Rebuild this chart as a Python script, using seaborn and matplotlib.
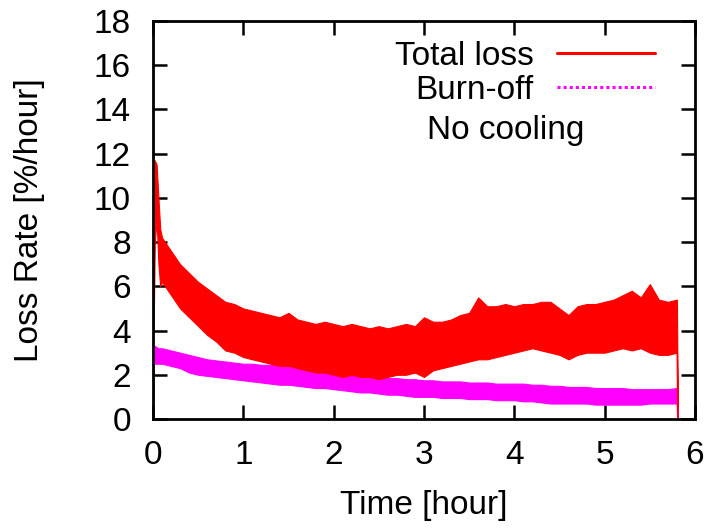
import numpy as np
import pandas as pd
import matplotlib
matplotlib.use("Agg")
import matplotlib.pyplot as plt
from matplotlib.lines import Line2D
import seaborn as sns

# ---- data (envelope of the noisy traces) ----
time_h = [0.0, 0.01, 0.02, 0.04, 0.06, 0.08,
          0.1, 0.2, 0.3, 0.4, 0.5, 0.6, 0.7, 0.8, 0.9, 1.0,
          1.1, 1.2, 1.3, 1.4, 1.5, 1.6, 1.7, 1.8, 1.9, 2.0,
          2.1, 2.2, 2.3, 2.4, 2.5, 2.6, 2.7, 2.8, 2.9, 3.0,
          3.1, 3.2, 3.3, 3.4, 3.5, 3.6, 3.7, 3.8, 3.9, 4.0,
          4.1, 4.2, 4.3, 4.4, 4.5, 4.6, 4.7, 4.8, 4.9, 5.0,
          5.1, 5.2, 5.3, 5.4, 5.5, 5.6, 5.7, 5.8, 5.81]

total_hi = [3.6, 10.5, 11.7, 11.5, 10.0, 8.6,
            8.2, 7.6, 7.0, 6.6, 6.2, 5.9, 5.6, 5.3, 5.2, 5.0,
            4.9, 4.8, 4.7, 4.6, 4.8, 4.5, 4.4, 4.3, 4.4, 4.3,
            4.2, 4.3, 4.2, 4.1, 4.2, 4.1, 4.2, 4.3, 4.2, 4.6,
            4.4, 4.4, 4.5, 4.7, 4.8, 5.5, 5.1, 5.1, 5.2, 5.1,
            5.2, 5.2, 5.3, 5.3, 5.0, 4.7, 5.1, 5.2, 5.2, 5.3,
            5.4, 5.6, 5.8, 5.5, 6.1, 5.4, 5.3, 5.4, 0.0]

total_lo = [3.6, 5.0, 8.0, 9.0, 7.0, 6.0,
            6.2, 5.6, 5.0, 4.6, 4.2, 3.8, 3.5, 3.1, 3.0, 2.8,
            2.7, 2.6, 2.5, 2.4, 2.4, 2.3, 2.2, 2.1, 2.1, 2.0,
            1.9, 2.0, 1.9, 1.9, 1.8, 1.9, 2.0, 2.0, 2.1, 1.9,
            2.2, 2.3, 2.4, 2.5, 2.6, 2.7, 2.7, 2.8, 2.9, 3.0,
            3.1, 3.2, 3.1, 3.0, 2.9, 2.7, 2.9, 3.0, 3.0, 3.0,
            3.1, 3.2, 3.1, 3.2, 3.0, 2.9, 2.9, 3.0, 0.0]

burn_hi = [0.0, 3.3, 3.3, 3.25, 3.2, 3.2,
           3.2, 3.1, 3.0, 2.9, 2.8, 2.7, 2.65, 2.6, 2.55, 2.5,
           2.5, 2.45, 2.45, 2.4, 2.35, 2.3, 2.25, 2.2, 2.15, 2.1,
           2.05, 2.0, 2.0, 1.95, 1.9, 1.85, 1.85, 1.8, 1.8, 1.75,
           1.75, 1.7, 1.7, 1.7, 1.65, 1.65, 1.65, 1.6, 1.6, 1.6,
           1.6, 1.55, 1.55, 1.5, 1.5, 1.45, 1.45, 1.45, 1.4, 1.4,
           1.4, 1.4, 1.35, 1.35, 1.35, 1.35, 1.35, 1.4, 0.0]

burn_lo = [0.0, 2.5, 2.5, 2.5, 2.5, 2.5,
           2.5, 2.4, 2.3, 2.1, 2.0, 1.95, 1.9, 1.85, 1.8, 1.75,
           1.7, 1.65, 1.6, 1.55, 1.55, 1.5, 1.45, 1.4, 1.4, 1.35,
           1.3, 1.25, 1.2, 1.2, 1.15, 1.1, 1.1, 1.05, 1.0, 1.0,
           1.0, 0.95, 0.95, 0.95, 0.9, 0.9, 0.9, 0.85, 0.85, 0.85,
           0.8, 0.8, 0.75, 0.7, 0.7, 0.7, 0.7, 0.7, 0.65, 0.65,
           0.65, 0.65, 0.65, 0.65, 0.7, 0.7, 0.7, 0.7, 0.0]

x_ticks = [0, 1, 2, 3, 4, 5, 6]
y_ticks = [0, 2, 4, 6, 8, 10, 12, 14, 16, 18]

series_labels = ["Total loss", "Burn-off"]
annotation = "No cooling"

# ---- build long-form table: two values per time -> band = min..max ----
df_total = pd.DataFrame({"t": time_h + time_h, "v": total_hi + total_lo})
df_burn = pd.DataFrame({"t": time_h + time_h, "v": burn_hi + burn_lo})

sns.set_style("ticks")
plt.rcParams["font.family"] = ["Liberation Sans", "DejaVu Sans"]
plt.rcParams["text.color"] = "black"
plt.rcParams["axes.labelcolor"] = "black"
plt.rcParams["xtick.color"] = "black"
plt.rcParams["ytick.color"] = "black"

FS = 24
fig = plt.figure(figsize=(7.10, 5.29), dpi=100)
ax = fig.add_axes([153 / 710, 1 - 419 / 529, (695 - 153) / 710, (419 - 21) / 529])

RED = "#ff0000"
MAG = "#ff00ff"

sns.lineplot(data=df_burn, x="t", y="v", ax=ax, color=MAG, linewidth=1.0,
             estimator="mean", errorbar=("pi", 100),
             err_kws={"alpha": 1.0, "linewidth": 0.8, "edgecolor": MAG})
sns.lineplot(data=df_total, x="t", y="v", ax=ax, color=RED, linewidth=1.0,
             estimator="mean", errorbar=("pi", 100),
             err_kws={"alpha": 1.0, "linewidth": 0.8, "edgecolor": RED})

ax.set_xlim(x_ticks[0], x_ticks[-1])
ax.set_ylim(y_ticks[0], y_ticks[-1])
ax.set_xticks(x_ticks)
ax.set_yticks(y_ticks)
ax.set_xticklabels([str(v) for v in x_ticks])
ax.set_yticklabels([str(v) for v in y_ticks])

for s in ax.spines.values():
    s.set_visible(True)
    s.set_linewidth(2.0)
    s.set_color("black")

ax.tick_params(axis="both", which="major", direction="in", length=10, width=1.8,
               top=True, right=True, labelsize=FS, colors="black")
ax.tick_params(axis="y", pad=16)
ax.tick_params(axis="x", pad=15)

ax.set_xlabel("Time [hour]", fontsize=FS, labelpad=14, color="black")
ax.set_ylabel("Loss Rate [%/hour]", fontsize=FS, labelpad=35, color="black")

handles = [Line2D([], [], color=RED, linewidth=2.2, linestyle="-"),
           Line2D([], [], color=MAG, linewidth=2.2, linestyle=(0, (1, 1)))]
leg = fig.legend(handles, series_labels, loc="upper right",
                 bbox_to_anchor=(655 / 710, 1 - 41 / 529), frameon=False,
                 markerfirst=False, fontsize=FS, handlelength=2.95,
                 handletextpad=0.69, labelspacing=0.08, borderpad=0,
                 borderaxespad=0)
for txt in leg.get_texts():
    txt.set_color("black")

fig.text(506 / 710, 1 - 130 / 529, annotation, fontsize=FS,
         ha="center", va="center", color="black")

fig.savefig("out.png", dpi=100)
